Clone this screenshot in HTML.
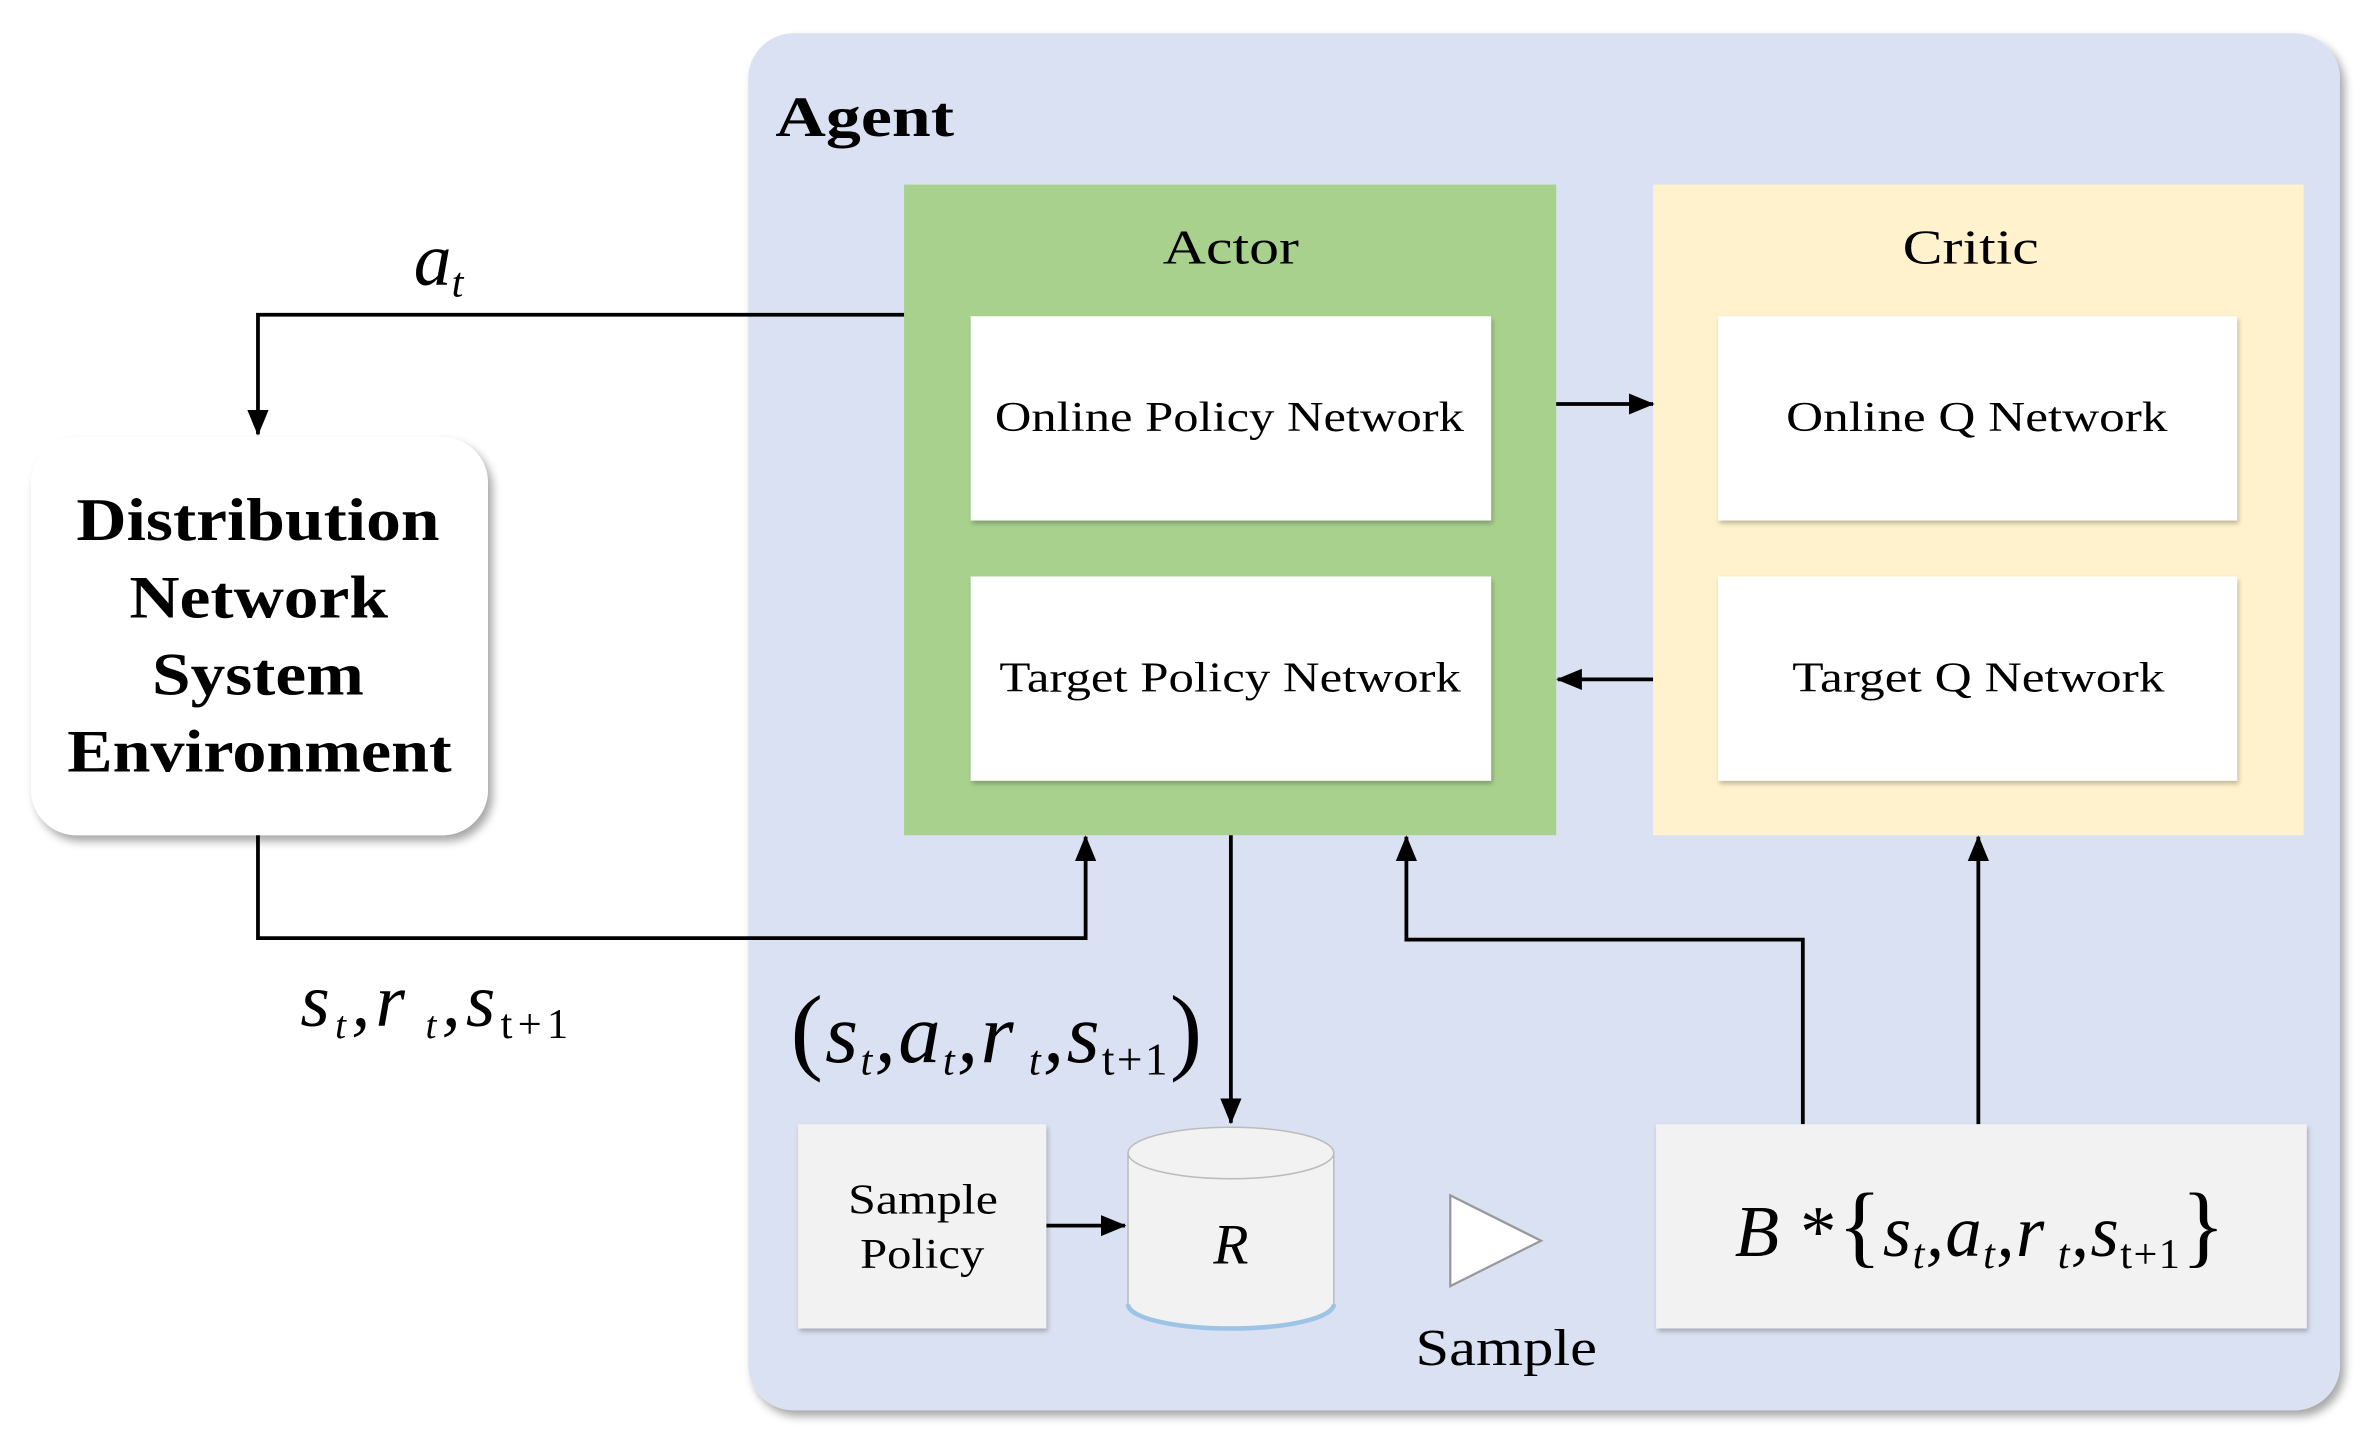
<!DOCTYPE html>
<html><head><meta charset="utf-8"><style>
html,body{margin:0;padding:0;background:#fff;}
svg{display:block;}
text{font-family:"Liberation Serif",serif;fill:#000;}
</style></head><body>
<svg width="2374" height="1445" viewBox="0 0 1568 955" xmlns="http://www.w3.org/2000/svg">
<defs>
<marker id="ah" markerWidth="18" markerHeight="16" refX="16" refY="8" orient="auto" markerUnits="userSpaceOnUse">
<path d="M0,1 L17,8 L0,15 z" fill="#000"/></marker>
<filter id="sh" x="-10%" y="-10%" width="130%" height="130%"><feDropShadow dx="3" dy="4" stdDeviation="3" flood-color="#000" flood-opacity="0.35"/></filter>
<filter id="sh2" x="-10%" y="-10%" width="130%" height="130%"><feDropShadow dx="1" dy="2" stdDeviation="1.5" flood-color="#000" flood-opacity="0.25"/></filter>
</defs>
<rect x="494" y="22" width="1052" height="910" rx="30" fill="#dae1f2" filter="url(#sh)"/>
<text x="512" y="90" font-size="38" font-weight="bold" textLength="118" lengthAdjust="spacingAndGlyphs">Agent</text>

<rect x="597" y="122" width="431" height="430" fill="#a9d18e"/>
<text x="768" y="174" font-size="32" textLength="90" lengthAdjust="spacingAndGlyphs">Actor</text>
<rect x="641" y="209" width="344" height="135" fill="#fff" filter="url(#sh2)"/>
<text x="657" y="285" font-size="28" textLength="310" lengthAdjust="spacingAndGlyphs">Online Policy Network</text>
<rect x="641" y="381" width="344" height="135" fill="#fff" filter="url(#sh2)"/>
<text x="660" y="457" font-size="28" textLength="305" lengthAdjust="spacingAndGlyphs">Target Policy Network</text>

<rect x="1092" y="122" width="430" height="430" fill="#fff2cc"/>
<text x="1257" y="174" font-size="32" textLength="90" lengthAdjust="spacingAndGlyphs">Critic</text>
<rect x="1135" y="209" width="343" height="135" fill="#fff" filter="url(#sh2)"/>
<text x="1180" y="285" font-size="28" textLength="252" lengthAdjust="spacingAndGlyphs">Online Q Network</text>
<rect x="1135" y="381" width="343" height="135" fill="#fff" filter="url(#sh2)"/>
<text x="1184" y="457" font-size="28" textLength="246" lengthAdjust="spacingAndGlyphs">Target Q Network</text>

<rect x="20" y="289" width="302" height="263" rx="30" fill="#fff" filter="url(#sh)"/>
<g font-size="40" font-weight="bold">
<text x="50" y="357" textLength="240" lengthAdjust="spacingAndGlyphs">Distribution</text>
<text x="85" y="408" textLength="171" lengthAdjust="spacingAndGlyphs">Network</text>
<text x="100" y="459" textLength="140" lengthAdjust="spacingAndGlyphs">System</text>
<text x="44" y="510" textLength="254" lengthAdjust="spacingAndGlyphs">Environment</text>
</g>

<g stroke="#000" stroke-width="2.5" fill="none">
<path d="M597,208 H170 V287" marker-end="url(#ah)"/>
<path d="M170,552 V620 H717 V553" marker-end="url(#ah)"/>
<path d="M1028,267 H1092" marker-end="url(#ah)"/>
<path d="M1092,449 H1029" marker-end="url(#ah)"/>
<path d="M813,552 V742" marker-end="url(#ah)"/>
<path d="M691,810 H743" marker-end="url(#ah)"/>
<path d="M1191,743 V621 H929 V553" marker-end="url(#ah)"/>
<path d="M1307,743 V553" marker-end="url(#ah)"/>
</g>

<text x="273" y="188" font-size="50" font-style="italic">a<tspan font-size="28" dy="8">t</tspan></text>
<text x="198" y="678" font-size="50" font-style="italic" textLength="177" lengthAdjust="spacing">s<tspan font-size="26" dy="8">t</tspan><tspan dy="-8">,r</tspan><tspan font-size="26" dy="8"> t</tspan><tspan dy="-8">,s</tspan><tspan font-size="28" dy="8" font-style="normal">t+1</tspan></text>
<text x="522" y="702" font-size="56" font-style="italic" textLength="272" lengthAdjust="spacing"><tspan font-style="normal" font-size="64">(</tspan>s<tspan font-size="28" dy="8">t</tspan><tspan dy="-8">,a</tspan><tspan font-size="28" dy="8">t</tspan><tspan dy="-8">,r</tspan><tspan font-size="28" dy="8"> t</tspan><tspan dy="-8">,s</tspan><tspan font-size="30" dy="8" font-style="normal">t+1</tspan><tspan dy="-8" font-style="normal" font-size="64">)</tspan></text>

<rect x="527" y="743" width="164" height="135" fill="#f2f2f2" filter="url(#sh2)"/>
<text x="560" y="802" font-size="28" textLength="99" lengthAdjust="spacingAndGlyphs">Sample</text>
<text x="568" y="838" font-size="28" textLength="82" lengthAdjust="spacingAndGlyphs">Policy</text>

<path d="M745,762 V862 A68,16 0 0 0 881,862 V762" fill="#f2f2f2" stroke="#bbb" stroke-width="1"/>
<path d="M745,862 A68,16 0 0 0 881,862" fill="none" stroke="#9dc3e6" stroke-width="3"/>
<ellipse cx="813" cy="762" rx="68" ry="17" fill="#f2f2f2" stroke="#bbb" stroke-width="1"/>
<text x="813" y="835" font-size="38" font-style="italic" text-anchor="middle">R</text>

<path d="M958,790 L958,850 L1018,820 Z" fill="#fff" stroke="#999" stroke-width="1.5"/>
<text x="935" y="902" font-size="34" textLength="120" lengthAdjust="spacingAndGlyphs">Sample</text>

<rect x="1094" y="743" width="430" height="135" fill="#f2f2f2" filter="url(#sh2)"/>
<text x="1146" y="830" font-size="48" font-style="italic" textLength="324" lengthAdjust="spacing">B<tspan font-style="normal"> *</tspan><tspan font-style="normal" font-size="60">{</tspan>s<tspan font-size="28" dy="8">t</tspan><tspan dy="-8">,a</tspan><tspan font-size="28" dy="8">t</tspan><tspan dy="-8">,r</tspan><tspan font-size="28" dy="8"> t</tspan><tspan dy="-8">,s</tspan><tspan font-size="28" dy="8" font-style="normal">t+1</tspan><tspan dy="-8" font-style="normal" font-size="60">}</tspan></text>
</svg>
</body></html>
